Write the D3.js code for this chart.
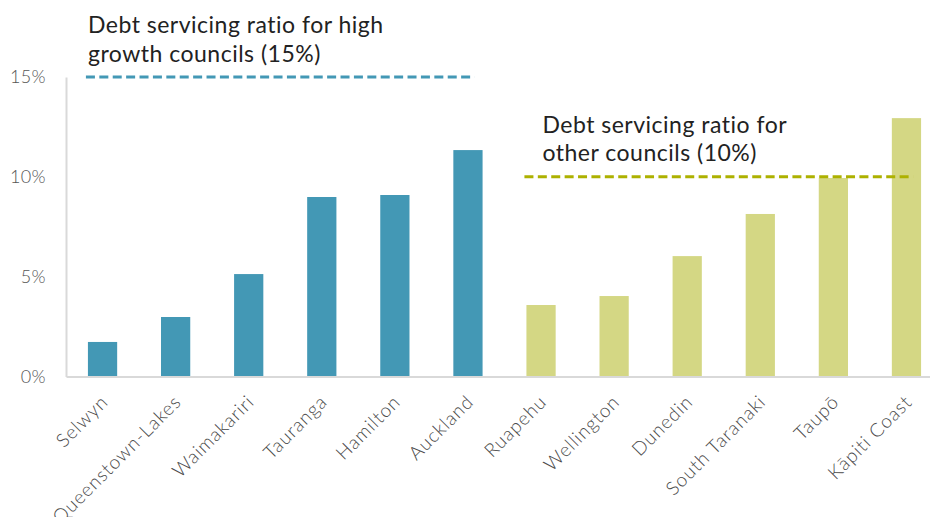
<!DOCTYPE html>
<html>
<head>
<meta charset="utf-8">
<script src="https://cdn.jsdelivr.net/npm/d3@7"></script>
<style>
  html, body { margin: 0; padding: 0; background: #ffffff; }
  svg { display: block; font-family: Lato, "Open Sans", sans-serif; }
</style>
</head>
<body>
<svg id="chart" width="930" height="517"></svg>
<script>
// Councils, grouped: high growth first, then the others
const councils = ["Selwyn", "Queenstown-Lakes", "Waimakariri", "Tauranga", "Hamilton", "Auckland",
                  "Ruapehu", "Wellington", "Dunedin", "South Taranaki", "Taupō", "Kāpiti Coast"];
const groups = ["high", "high", "high", "high", "high", "high",
                "other", "other", "other", "other", "other", "other"];
// Debt servicing ratio (%)
const ratios = [1.73, 2.98, 5.13, 8.99, 9.09, 11.34, 3.58, 4.03, 6.03, 8.14, 9.94, 12.94];
const yTicks = [0, 5, 10, 15];

// Limits shown as dashed reference lines
const limitValues = [15, 10];
const limitGroups = ["high", "other"];
const limitLabels = [["Debt servicing ratio for high", "growth councils (15%)"],
                     ["Debt servicing ratio for", "other councils (10%)"]];

const colors = { high: "#4398b5", other: "#d4d784" };
const limitColors = { high: "#4398b5", other: "#adb100" };
const labelIndent = { high: 2, other: 18 };

const svg = d3.select("#chart");
const x0 = 66, x1 = 943, yBase = 376.5, yTop = 77;

const x = d3.scaleBand().domain(councils).range([x0, x1]).paddingInner(0.6).paddingOuter(0.3);
const y = d3.scaleLinear().domain([0, 15]).range([yBase, yTop]);

// Bars
svg.append("g").selectAll("rect")
  .data(councils)
  .join("rect")
  .attr("x", d => x(d))
  .attr("width", x.bandwidth())
  .attr("y", (d, i) => y(ratios[i]))
  .attr("height", (d, i) => y(0) - y(ratios[i]))
  .attr("fill", (d, i) => colors[groups[i]]);

// Y axis
const yAxis = svg.append("g")
  .attr("transform", `translate(${x0},0)`)
  .call(d3.axisLeft(y).tickValues(yTicks).tickFormat(d => d + "%").tickSize(0).tickPadding(20));
yAxis.select(".domain").attr("stroke", "#d9d9d9").attr("stroke-width", 2);
yAxis.selectAll("text")
  .attr("font-size", 18).attr("font-weight", 300).attr("letter-spacing", 0.4)
  .attr("fill", "#555555").attr("font-family", "Lato, sans-serif");

// X axis baseline and rotated labels
const xAxis = svg.append("g")
  .attr("transform", `translate(0,${yBase})`)
  .call(d3.axisBottom(x).tickSize(0).tickPadding(0));
xAxis.select(".domain").attr("stroke", "#d9d9d9").attr("stroke-width", 2);
xAxis.selectAll("text")
  .attr("font-size", 19).attr("font-weight", 300).attr("letter-spacing", 0.9)
  .attr("fill", "#4a4a4a").attr("font-family", "Lato, sans-serif")
  .attr("text-anchor", "end")
  .attr("dy", "0.35em")
  .attr("transform", "translate(2,22) rotate(-45)");

// Dashed limit lines with their labels, each spanning its own group
limitValues.forEach((v, k) => {
  const g = limitGroups[k];
  const members = councils.filter((c, i) => groups[i] === g);
  const lx0 = x(members[0]) - 2;
  const lx1 = x(members[members.length - 1]) + x.bandwidth() - 8;
  svg.append("line")
    .attr("x1", lx0).attr("x2", lx1)
    .attr("y1", y(v)).attr("y2", y(v))
    .attr("stroke", limitColors[g]).attr("stroke-width", 3)
    .attr("stroke-dasharray", "9,4.4");
  const t = svg.append("text")
    .attr("x", lx0 + labelIndent[g]).attr("y", y(v) - 44)
    .attr("font-size", 23).attr("font-weight", 400).attr("letter-spacing", 0.5)
    .attr("fill", "#222222").attr("font-family", "Lato, sans-serif");
  limitLabels[k].forEach((line, j) => {
    t.append("tspan").attr("x", lx0 + labelIndent[g]).attr("dy", j === 0 ? 0 : 28.5).text(line);
  });
});
</script>
</body>
</html>
